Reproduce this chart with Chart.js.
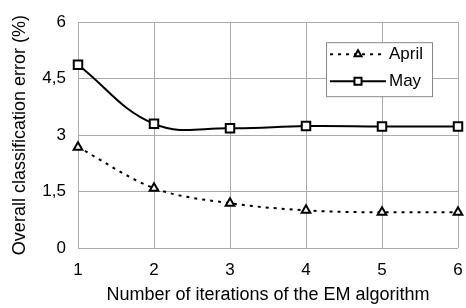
<!DOCTYPE html>
<html>
<head>
<meta charset="utf-8">
<script src="https://cdn.jsdelivr.net/npm/chart.js@4/dist/chart.umd.min.js"></script>
<style>
  html, body { margin: 0; padding: 0; background: #fff; }
  #chart { display: block; }
</style>
</head>
<body>
<canvas id="chart" width="466" height="308"></canvas>
<script>
var iterations = ['1', '2', '3', '4', '5', '6'];
var aprilError = [2.68, 1.59, 1.19, 1.0, 0.95, 0.95];
var mayError = [4.87, 3.3, 3.18, 3.24, 3.23, 3.23];
var seriesNames = ['April', 'May'];
var yTicks = [0, 1.5, 3, 4.5, 6];

var FONT = '"Liberation Sans", Arial, sans-serif';

// legend drawn inside the plot: line + marker + label, framed
var boxLegend = {
  id: 'boxLegend',
  afterDraw: function (chart) {
    var ctx = chart.ctx;
    var area = chart.chartArea;
    var x0 = area.left + 248, y0 = area.top + 20, w = 106, h = 54;
    ctx.save();
    ctx.strokeStyle = '#888';
    ctx.lineWidth = 1;
    ctx.fillStyle = '#fff';
    ctx.fillRect(x0, y0, w, h);
    ctx.strokeRect(x0 + 0.5, y0 + 0.5, w, h);
    chart.data.datasets.forEach(function (ds, i) {
      var cy = y0 + 12 + i * 27;
      ctx.strokeStyle = '#000';
      ctx.lineWidth = ds.borderWidth;
      ctx.setLineDash(ds.borderDash || []);
      ctx.beginPath();
      ctx.moveTo(x0 + 4, cy);
      ctx.lineTo(x0 + 60, cy);
      ctx.stroke();
      ctx.setLineDash([]);
      ctx.fillStyle = '#fff';
      ctx.lineWidth = ds.pointBorderWidth;
      Chart.helpers.drawPoint(ctx, {
        pointStyle: ds.pointStyle,
        radius: ds.pointRadius - 1,
        rotation: 0,
        borderWidth: ds.pointBorderWidth
      }, x0 + 32, cy);
      ctx.fillStyle = '#000';
      ctx.font = '17px ' + FONT;
      ctx.textBaseline = 'middle';
      ctx.textAlign = 'left';
      ctx.fillText(ds.label, x0 + 63, cy);
    });
    ctx.restore();
  }
};

new Chart(document.getElementById('chart').getContext('2d'), {
  type: 'line',
  data: {
    labels: iterations,
    datasets: [
      {
        label: seriesNames[0],
        data: aprilError,
        borderColor: '#000',
        borderWidth: 2,
        borderDash: [3, 5],
        tension: 0.4,
        cubicInterpolationMode: 'monotone',
        pointStyle: 'triangle',
        pointRadius: 5,
        pointBorderWidth: 2,
        pointBackgroundColor: '#fff',
        pointBorderColor: '#000',
      },
      {
        label: seriesNames[1],
        data: mayError,
        borderColor: '#000',
        borderWidth: 2,
        tension: 0.4,
        pointStyle: 'rect',
        pointRadius: 6,
        pointBorderWidth: 2,
        pointBackgroundColor: '#fff',
        pointBorderColor: '#000',
      },
    ]
  },
  plugins: [boxLegend],
  options: {
    responsive: false,
    animation: false,
    layout: { padding: { left: 0, right: 2, top: 22, bottom: 0 } },
    plugins: {
      legend: { display: false },
      tooltip: { enabled: false },
    },
    scales: {
      x: {
        offset: false,
        afterFit: function (axis) { axis.height = 60; },
        // invisible tick marks push the labels down without widening side padding
        grid: { color: '#aaa', lineWidth: 1, drawTicks: true, tickLength: 10, tickColor: 'rgba(0,0,0,0)' },
        border: { display: false },
        ticks: { color: '#000', font: { family: FONT, size: 17 }, padding: 2 },
        title: {
          display: true,
          text: 'Number of iterations of the EM algorithm',
          color: '#000',
          font: { family: FONT, size: 18 },
          padding: { top: 0, bottom: 2 },
        },
      },
      y: {
        min: 0,
        max: 6,
        afterBuildTicks: function (axis) {
          axis.ticks = yTicks.map(function (v) { return { value: v }; });
        },
        afterFit: function (axis) { axis.width = 78; },
        grid: { color: '#aaa', lineWidth: 1, drawTicks: false },
        border: { display: false },
        ticks: {
          color: '#000',
          font: { family: FONT, size: 17 },
          padding: 12,
          callback: function (v) { return String(v).replace('.', ','); },
        },
        title: {
          display: true,
          text: 'Overall classification error (%)',
          color: '#000',
          font: { family: FONT, size: 18 },
          padding: { top: 9, bottom: 0 },
        },
      }
    }
  }
});
</script>
</body>
</html>
